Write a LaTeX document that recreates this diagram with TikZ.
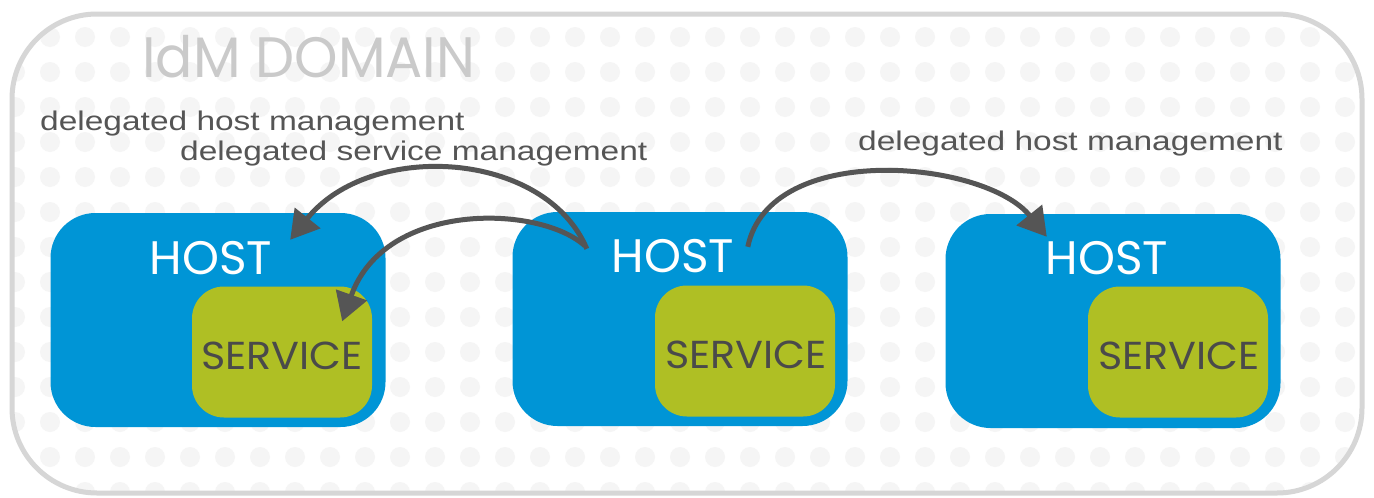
\documentclass[tikz,border=0pt]{standalone}
\usepackage{fontspec}
\setmainfont{Liberation Sans}
\newfontfamily\geo{Poppins}
\usetikzlibrary{arrows.meta,calc}
\definecolor{hostblue}{HTML}{0095D6}
\definecolor{svcgreen}{HTML}{AFBF24}
\definecolor{svctext}{HTML}{4A4A4A}
\definecolor{domtext}{HTML}{CACACA}
\definecolor{lbltext}{HTML}{555555}
\definecolor{arrowgray}{HTML}{555555}
\definecolor{bordergray}{HTML}{D6D6D6}
\definecolor{dotgray}{HTML}{F5F5F5}
\begin{document}
\begin{tikzpicture}[x=1pt,y=-1pt,
  host/.style={fill=hostblue, rounded corners=45pt, minimum width=335pt, minimum height=214pt, inner sep=0pt},
  service/.style={fill=svcgreen, rounded corners=32pt, minimum width=180pt, minimum height=131pt, inner sep=0pt},
  hostlbl/.style={text=white, font=\geo\fontsize{47}{47}\selectfont, inner sep=0pt, anchor=base},
  svclbl/.style={text=svctext, font=\geo\fontsize{39}{39}\selectfont, inner sep=0pt, anchor=base},
  domlbl/.style={text=domtext, font=\geo\fontsize{57}{57}\selectfont, inner sep=0pt, anchor=base west},
  edgelbl/.style={text=lbltext, font=\fontsize{27}{27}\selectfont, inner sep=0pt, anchor=base west},
  arr/.style={draw=arrowgray, line width=5pt, -{Triangle[length=28pt,width=32pt]}, arrowgray}
]
\useasboundingbox (0,0) rectangle (1374,498);
\fill[white] (0,0) rectangle (1374,498);
\begin{scope}
  \clip[rounded corners=85pt] (12,14) rectangle (1362,493);
  \foreach \i in {0,...,39} {
    \foreach \j in {0,...,13} {
      \fill[dotgray] (15+35*\i, 37+35*\j) circle (10pt);
    }
  }
\end{scope}
\draw[bordergray, line width=5pt, rounded corners=85pt] (12,14) rectangle (1362,493);

\node[domlbl] (dom) at (142,77) {\scalebox{0.97}[1]{IdM DOMAIN}};

\node[host] (h1) at (218,320) {};
\node[host] (h2) at (680,319) {};
\node[host] (h3) at (1113,321) {};

\node[service] (s1) at (282,352) {};
\node[service] (s2) at (745,351) {};
\node[service] (s3) at (1178,352) {};

\node[hostlbl] (ht1) at ($(h1.north)+(-7,62)$) {HOST};
\node[hostlbl] (ht2) at ($(h2.north)+(-7,61)$) {HOST};
\node[hostlbl] (ht3) at ($(h3.north)+(-6,61)$) {HOST};

\node[svclbl] (st1) at ($(s1.north)+(0,83)$) {\scalebox{1.06}[1]{SERVICE}};
\node[svclbl] (st2) at ($(s2.north)+(1,83)$) {\scalebox{1.06}[1]{SERVICE}};
\node[svclbl] (st3) at ($(s3.north)+(1,83)$) {\scalebox{1.06}[1]{SERVICE}};

\node[edgelbl] (l1) at (40,130) {\scalebox{1.24}[1]{delegated host management}};
\node[edgelbl] (l2) at (180,160) {\scalebox{1.24}[1]{delegated service management}};
\node[edgelbl] (l3) at (858,150) {\scalebox{1.24}[1]{delegated host management}};

\draw[arr] ($(h2.north west)+(74.5,37)$) .. controls (545,150) and (370,140) .. ($(h1.north east)+(-95.5,27)$);
\draw[arr] ($(h2.north west)+(72.5,34)$) .. controls (540,205) and (385,200) .. ($(s1.north east)+(-30,35)$);
\draw[arr] ($(h2.north west)+(235.5,35)$) .. controls (770,140) and (985,160) .. ($(h3.north west)+(101.5,23)$);
\end{tikzpicture}
\end{document}
